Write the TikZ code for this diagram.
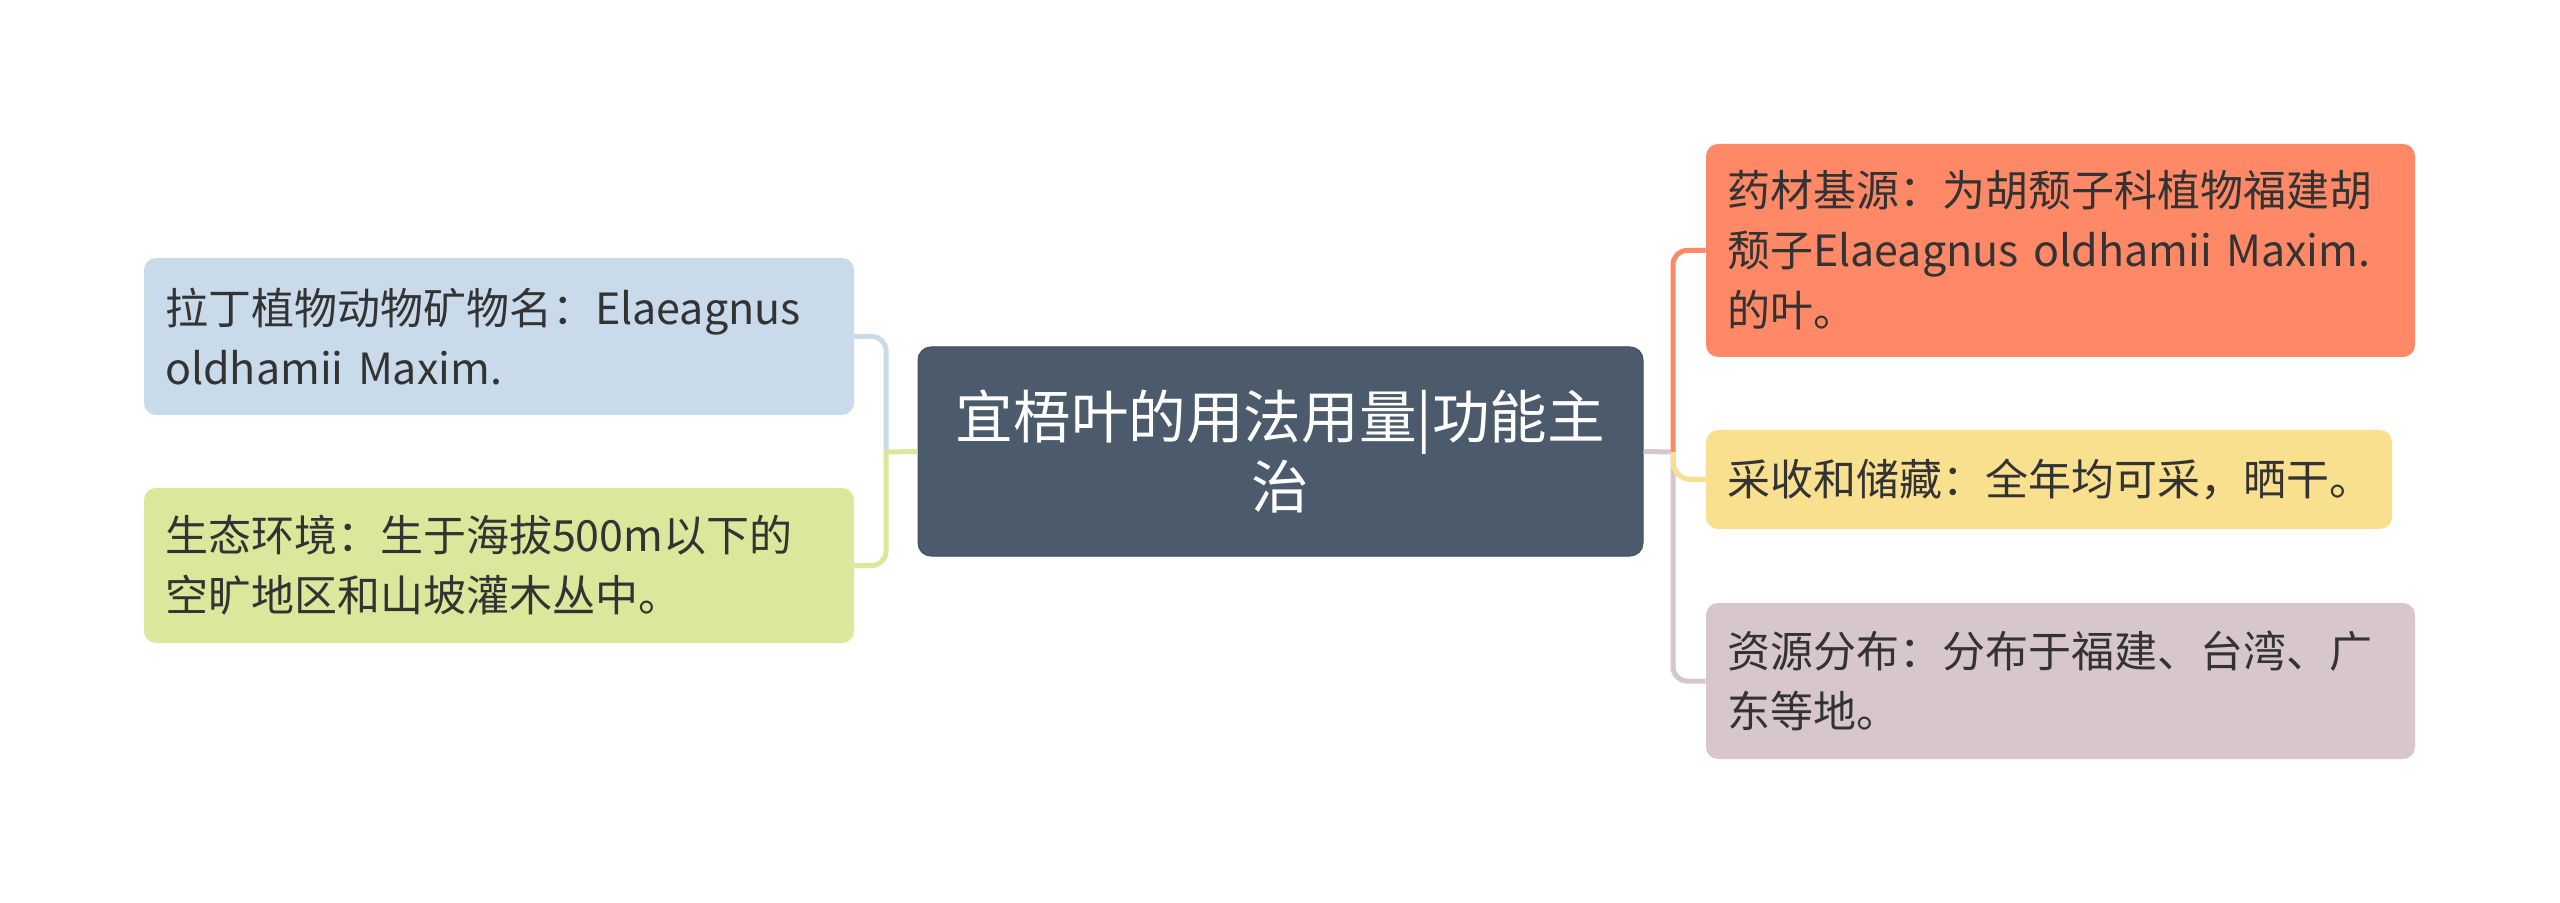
\documentclass[tikz,border=0pt]{standalone}
\usepackage{fontspec}
\setmainfont{Noto Sans CJK SC}
\definecolor{cmain}{HTML}{4B5B6B}
\definecolor{cblue}{HTML}{C9DBEB}
\definecolor{cgreen}{HTML}{D9E89B}
\definecolor{corange}{HTML}{FF8966}
\definecolor{cyellow}{HTML}{F8E08F}
\definecolor{cpink}{HTML}{D8C6CF}
\definecolor{ctext}{HTML}{333333}
\tikzset{
  leaf/.style={rounded corners=6pt, inner xsep=10.5pt, inner ysep=0pt, align=left,
    text=ctext, font=\fontsize{21.5pt}{30pt}\selectfont},
  root/.style={rounded corners=6.5pt, fill=cmain, draw=cmain!85!black, line width=0.5pt,
    inner xsep=10.5pt, inner ysep=0pt, align=center, text=white,
    font=\fontsize{28.8pt}{35pt}\selectfont},
  link/.style={line width=2.5pt, rounded corners=7pt},
}
\begin{document}
\begin{tikzpicture}[x=0.5pt,y=-0.5pt]
\useasboundingbox (0,0) rectangle (2560,903);
\fill[white] (0,0) rectangle (2560,903);
\node[root, text width=341.5pt, minimum height=104.5pt] (C) at (1280.5,451.5)
  {宜梧叶的用法用量|功能主\\治};
\node[leaf, fill=cblue, text width=334pt, minimum height=78.5pt] (L1) at (499,336.5)
  {拉丁植物动物矿物名：Elaeagnus\\oldhamii Maxim.};
\node[leaf, fill=cgreen, text width=334pt, minimum height=77.5pt] (L2) at (499,565.5)
  {生态环境：生于海拔500m以下的\\空旷地区和山坡灌木丛中。};
\node[leaf, fill=corange, text width=333.5pt, minimum height=106.5pt] (R1) at (2060.5,250.5)
  {药材基源：为胡颓子科植物福建胡\\颓子Elaeagnus oldhamii Maxim.\\的叶。};
\node[leaf, fill=cyellow, text width=322pt, minimum height=49.5pt] (R2) at (2049,479.5)
  {采收和储藏：全年均可采，晒干。};
\node[leaf, fill=cpink, text width=333.5pt, minimum height=78pt] (R3) at (2060.5,681)
  {资源分布：分布于福建、台湾、广\\东等地。};
\coordinate (lj) at (886,452);
\coordinate (rj) at (1673,452);
% left connectors
\draw[link, cblue] (L1.east) -| (lj);
\draw[link, cgreen] (lj) |- (L2.east);
\draw[link, cgreen, rounded corners=0pt] (C.west) -- (lj);
% right connectors
\draw[link, cpink, rounded corners=0pt] (C.east) -- (rj);
\draw[link, cpink] (rj) |- (R3.west);
\draw[link, corange] (rj) |- (R1.west);
\draw[link, cyellow, rounded corners=9pt] (rj) |- (R2.west);
\end{tikzpicture}
\end{document}
